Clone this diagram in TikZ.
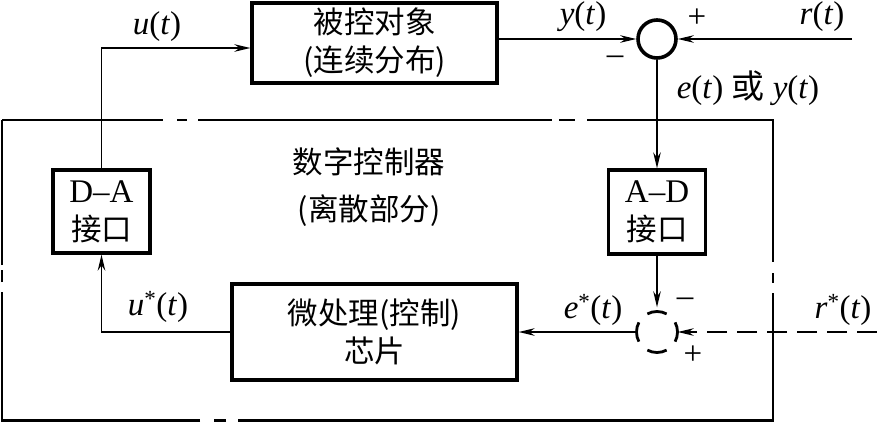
\documentclass[tikz,border=0pt]{standalone}
\usepackage{fontspec}
\setmainfont{Liberation Serif}
\newfontfamily\cjk{Noto Sans CJK SC}
\usetikzlibrary{arrows.meta}
\begin{document}
\begin{tikzpicture}[x=1pt,y=-1pt,
  blk/.style={draw,line width=3.2pt,inner sep=0pt,align=center,
    font=\fontsize{30.5}{38}\selectfont\cjk},
  ln/.style={line width=1.8pt},
  arr/.style={ln,-{Stealth[length=16pt,width=7.5pt]}},
  lbl/.style={inner sep=0pt,font=\fontsize{33}{36}\selectfont},
  cjl/.style={inner sep=0pt,align=center,font=\fontsize{30.5}{47}\selectfont\cjk},
  frame/.style={line width=2.3pt}]
\useasboundingbox (0,0) rectangle (877,423);

% blocks
\node[blk,minimum width=245pt,minimum height=80pt] (plant) at (374.5,43)
  {被控对象\\(连续分布)};
\node[blk,minimum width=97pt,minimum height=83pt] (DA) at (101.5,211.5)
  {{\rmfamily\fontsize{33}{38}\selectfont D--A}\\接口};
\node[blk,minimum width=97pt,minimum height=84pt] (AD) at (657,212)
  {{\rmfamily\fontsize{33}{38}\selectfont A--D}\\接口};
\node[blk,minimum width=285pt,minimum height=96pt] (micro) at (374.5,332)
  {微处理(控制)\\芯片};

% summing junctions
\node[draw,circle,line width=3.6pt,minimum size=38pt,inner sep=0pt] (sum1) at (657,39) {};
\node[circle,minimum size=41pt,inner sep=0pt] (sum2) at (657,332) {};
\foreach \a in {0,90,180,270}
  \draw[line width=2.8pt] ([shift={(\a-28:20.5pt)}]657,332)
     arc[start angle=\a-28,end angle=\a+28,radius=20.5pt];

% free ends
\coordinate (rin) at (852,39);
\coordinate (rsin) at (877,332);

% connectors
\draw[arr] (DA.north) |- ([yshift=-5pt]plant.west);
\draw[arr] ([yshift=4pt]plant.east) -- (sum1.west);
\draw[arr] (rin) -- (sum1.east);
\draw[arr] (sum1.south) -- (AD.north);
\draw[arr,shorten >=4pt] (AD.south) -- (sum2.north);
\draw[arr,dash pattern=on 20pt off 10pt] (rsin) -- (sum2.east);
\draw[arr] (sum2.west) -- (micro.east);
\draw[arr] (micro.west) -| (DA.south);

% controller frame (dash-dot)
\draw[frame] (2,120) -- (163,120) (177,120) -- (187,120) (198,120) -- (552,120)
  (559,120) -- (575,120) (587,120) -- (773,120) -- (773,262)
  (773,273) -- (773,283) (773,293) -- (773,420.5) -- (238,420.5)
  (226,420.5) -- (214,420.5) (200,420.5) -- (2,420.5) -- (2,292)
  (2,282) -- (2,270) (2,265) -- (2,120);

% labels
\node[lbl] (lu) at (157,27) {\textit{u}(\textit{t})};
\node[lbl] (ly) at (583,17) {\textit{y}(\textit{t})};
\node[lbl] (lr) at (822,17) {\textit{r}(\textit{t})};
\node[lbl] (p1) at (697,18) {+};
\node[lbl] (m1) at (615,60) {--};
\node[lbl] (le) at (748,88) {\textit{e}(\textit{t}) {\cjk 或} \textit{y}(\textit{t})};
\node[lbl] (lus) at (158,307) {\textit{u}\textsuperscript{*}(\textit{t})};
\node[lbl] (les) at (593,310) {\textit{e}\textsuperscript{*}(\textit{t})};
\node[lbl] (lrs) at (843,310) {\textit{r}\textsuperscript{*}(\textit{t})};
\node[lbl] (m2) at (685,302) {--};
\node[lbl] (p2) at (693,355) {+};
\node[cjl] (ctl) at (369,187) {数字控制器\\(离散部分)};
\end{tikzpicture}
\end{document}
